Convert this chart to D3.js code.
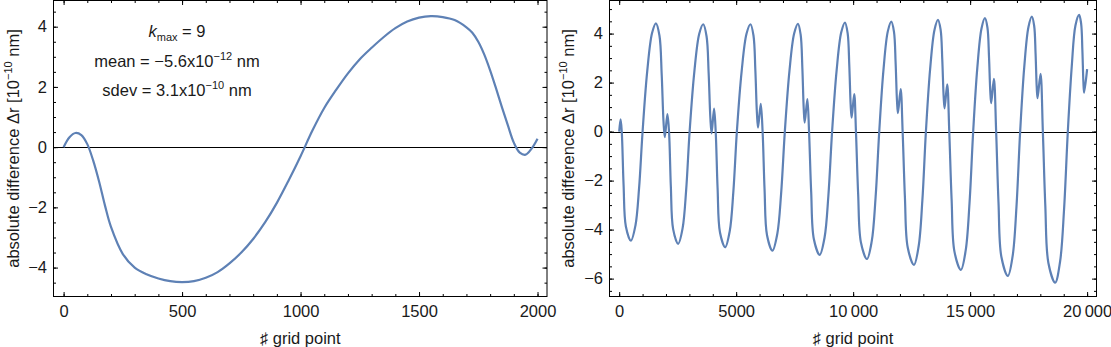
<!DOCTYPE html>
<html>
<head>
<meta charset="utf-8">
<script src="https://cdnjs.cloudflare.com/ajax/libs/d3/7.8.5/d3.min.js"></script>
<style>
    body { margin: 0; background: #fff; }
    svg text { font-family: "Liberation Sans", Arial, sans-serif; fill: #1a1a1a; }
</style>
</head>
<body>
<svg id="chart" width="1111" height="347"></svg>
<script>
// Left panel - one block of 2000 grid points (k_max = 9)
const leftGrid = [0, 25, 50, 75, 100, 125, 150, 175, 200, 250, 300, 350, 400, 450, 500,
    550, 600, 650, 700, 750, 800, 850, 900, 950, 1000, 1050, 1100, 1150, 1200, 1250,
    1300, 1350, 1400, 1450, 1500, 1550, 1600, 1650, 1700, 1725, 1750, 1775, 1800,
    1825, 1850, 1875, 1900, 1925, 1950, 1975, 2000];
const leftDiff = [0, 0.33, 0.47, 0.40, 0.10, -0.45, -1.15, -1.95, -2.65, -3.55, -4.0, -4.22, -4.36, -4.45, -4.48,
    -4.45, -4.34, -4.15, -3.86, -3.5, -3.05, -2.5, -1.85, -1.1, -0.3, 0.55, 1.3, 1.9, 2.45, 2.92,
    3.3, 3.65, 3.95, 4.17, 4.3, 4.35, 4.32, 4.22, 3.98, 3.8, 3.5, 3.08, 2.55,
    1.95, 1.32, 0.72, 0.15, -0.18, -0.25, -0.05, 0.28];

// Right panel - 20000 grid points, one row per block
const rightGrid = [
    0, 60, 110, 188, 286, 500, 695, 850, 1000, 1200, 1405, 1570, 1722, 1817, 1893, 1950,
    2060, 2130, 2208, 2306, 2520, 2711, 2863, 3010, 3213, 3422, 3590, 3734, 3824, 3896, 3950,
    4055, 4125, 4206, 4307, 4530, 4725, 4880, 5030, 5233, 5442, 5610, 5740, 5821, 5886, 5935,
    6050, 6130, 6214, 6319, 6550, 6757, 6921, 7080, 7276, 7478, 7640, 7756, 7829, 7887, 7930,
    8042, 8115, 8206, 8320, 8570, 8777, 8941, 9100, 9293, 9491, 9650, 9764, 9835, 9892, 9935,
    10045, 10120, 10214, 10332, 10590, 10795, 10958, 11115, 11295, 11481, 11630, 11744, 11815, 11872, 11915,
    12030, 12115, 12212, 12333, 12600, 12799, 12957, 13110, 13290, 13476, 13625, 13738, 13809, 13866, 13908,
    14020, 14108, 14208, 14332, 14606, 14810, 14973, 15130, 15306, 15486, 15632, 15739, 15806, 15860, 15900,
    16015, 16112, 16212, 16337, 16613, 16818, 16981, 17138, 17313, 17493, 17638, 17736, 17797, 17845, 17882,
    18008, 18108, 18213, 18345, 18634, 18845, 19013, 19175, 19344, 19501, 19658, 19744, 19797, 19840, 19872, 20000
];
const rightDiff = [
    0, 0.5, 0, -2.18, -3.87, -4.45, -3.83, -2.31, 0, 2.48, 4.02, 4.42, 3.91, 2.33, 0.44, -0.23,
    0.71, 0, -2.24, -3.98, -4.58, -3.94, -2.38, 0, 2.45, 3.99, 4.38, 3.89, 2.38, 0.58, -0.07,
    0.94, 0, -2.31, -4.11, -4.72, -4.06, -2.45, 0, 2.45, 3.99, 4.38, 3.92, 2.48, 0.77, 0.16,
    1.13, 0, -2.38, -4.23, -4.86, -4.18, -2.53, 0, 2.46, 4.0, 4.40, 3.96, 2.59, 0.95, 0.37,
    1.33, 0, -2.46, -4.38, -5.03, -4.33, -2.62, 0, 2.49, 4.05, 4.45, 4.02, 2.70, 1.13, 0.57,
    1.53, 0, -2.55, -4.52, -5.2, -4.47, -2.70, 0, 2.51, 4.09, 4.49, 4.08, 2.81, 1.29, 0.75,
    1.73, 0, -2.67, -4.73, -5.44, -4.68, -2.83, 0, 2.55, 4.15, 4.56, 4.16, 2.94, 1.47, 0.95,
    1.93, 0, -2.76, -4.91, -5.64, -4.85, -2.93, 0, 2.59, 4.21, 4.63, 4.25, 3.07, 1.66, 1.16,
    2.15, 0, -2.89, -5.12, -5.89, -5.07, -3.06, 0, 2.63, 4.27, 4.69, 4.32, 3.19, 1.84, 1.36,
    2.36, 0, -3.02, -5.36, -6.16, -5.30, -3.20, 0, 2.67, 4.33, 4.76, 4.41, 3.33, 2.05, 1.59, 2.55
];

// Ticks
const leftXTicks = [0, 500, 1000, 1500, 2000];
const leftXMinor = d3.range(0, 2001, 100);
const leftYTicks = [-4, -2, 0, 2, 4];
const leftYMinor = d3.range(-4.5, 4.51, 0.5);
const rightXTicks = [0, 5000, 10000, 15000, 20000];
const rightXMinor = d3.range(0, 20001, 1000);
const rightYTicks = [-6, -4, -2, 0, 2, 4];
const rightYMinor = d3.range(-6.5, 5.01, 0.5);

const LINE_COLOR = '#5E81B5';
const FONT_SIZE = 16.5;

const svg = d3.select('#chart');

function drawPanel(cfg) {
    const x = d3.scaleLinear().domain(cfg.xDomain).range([cfg.left, cfg.right]);
    const y = d3.scaleLinear().domain(cfg.yDomain).range([cfg.bottom, cfg.top]);
    const g = svg.append('g');

    const clipId = 'clip-' + cfg.name;
    svg.append('clipPath').attr('id', clipId)
        .append('rect')
        .attr('x', cfg.left).attr('y', cfg.top)
        .attr('width', cfg.right - cfg.left).attr('height', cfg.bottom - cfg.top);

    // zero line (snapped to pixel)
    const y0 = Math.round(y(0)) + 0.5;
    g.append('line')
        .attr('x1', cfg.left).attr('x2', cfg.right)
        .attr('y1', y0).attr('y2', y0)
        .attr('stroke', '#000').attr('stroke-width', 1);

    // curve
    const pts = cfg.xs.map((v, i) => [v, cfg.ys[i]]);
    g.append('path')
        .datum(pts)
        .attr('clip-path', `url(#${clipId})`)
        .attr('fill', 'none')
        .attr('stroke', LINE_COLOR)
        .attr('stroke-width', 2.2)
        .attr('stroke-linejoin', 'round')
        .attr('d', d3.line().x(d => x(d[0])).y(d => y(d[1])).curve(d3.curveCatmullRom.alpha(0.5)));

    // ticks on all four sides, pointing inward
    const axes = [
        { gen: d3.axisBottom, scale: x, pos: `translate(0,${cfg.bottom})`, major: cfg.xTicks, minor: cfg.xMinor, fmt: cfg.xFormat, pad: 9 },
        { gen: d3.axisTop, scale: x, pos: `translate(0,${cfg.top})`, major: cfg.xTicks, minor: cfg.xMinor, fmt: null },
        { gen: d3.axisLeft, scale: y, pos: `translate(${cfg.left},0)`, major: cfg.yTicks, minor: cfg.yMinor, fmt: d3.format('d'), pad: 6.5 },
        { gen: d3.axisRight, scale: y, pos: `translate(${cfg.right},0)`, major: cfg.yTicks, minor: cfg.yMinor, fmt: null }
    ];
    axes.forEach(a => {
        g.append('g')
            .attr('transform', a.pos)
            .call(a.gen(a.scale).tickValues(a.minor).tickSizeInner(-2.5).tickSizeOuter(0).tickFormat(''))
            .call(s => s.select('.domain').remove());
        const ax = g.append('g')
            .attr('transform', a.pos)
            .call(a.gen(a.scale).tickValues(a.major).tickSizeInner(-4.5).tickSizeOuter(0)
                .tickPadding(a.pad || 0)
                .tickFormat(a.fmt || ''));
        ax.select('.domain').remove();
        ax.selectAll('text')
            .attr('font-size', FONT_SIZE)
            .attr('font-family', '"Liberation Sans", Arial, sans-serif')
            .attr('fill', '#1a1a1a');
    });
    g.selectAll('.tick line').attr('stroke', '#000');

    // frame
    g.append('rect')
        .attr('x', cfg.left).attr('y', cfg.top)
        .attr('width', cfg.right - cfg.left).attr('height', cfg.bottom - cfg.top)
        .attr('fill', 'none').attr('stroke', '#000').attr('stroke-width', 1);

    // x label
    g.append('text')
        .attr('x', (cfg.left + cfg.right) / 2)
        .attr('y', 343.5)
        .attr('text-anchor', 'middle')
        .attr('font-size', FONT_SIZE)
        .text('\u266F grid point');

    // y label
    const yl = g.append('text')
        .attr('transform', `translate(${cfg.yLabelX},${(cfg.top + cfg.bottom) / 2}) rotate(-90)`)
        .attr('text-anchor', 'middle')
        .attr('font-size', FONT_SIZE);
    yl.append('tspan').text('absolute difference \u0394r [10');
    yl.append('tspan').attr('dy', -7).attr('font-size', 11).text('\u221210');
    yl.append('tspan').attr('dy', 7).text(' nm]');

    return { x, y, g };
}

// Left panel
const left = drawPanel({
    name: 'left',
    left: 53.5, right: 547, top: 0.5, bottom: 296.5,
    xDomain: [-42.6, 2040], yDomain: [-4.96, 4.87],
    xs: leftGrid, ys: leftDiff,
    xTicks: leftXTicks, xMinor: leftXMinor, yTicks: leftYTicks, yMinor: leftYMinor,
    xFormat: d3.format('d'),
    yLabelX: 19
});

// Right panel
drawPanel({
    name: 'right',
    left: 609.5, right: 1096.5, top: 0.5, bottom: 296.5,
    xDomain: [-414, 20401], yDomain: [-6.73, 5.35],
    xs: rightGrid, ys: rightDiff,
    xTicks: rightXTicks, xMinor: rightXMinor, yTicks: rightYTicks, yMinor: rightYMinor,
    xFormat: d => d >= 10000 ? d3.format(',')(d).replace(',', '\u2009') : String(d),
    yLabelX: 574
});

// Annotation in left panel
const annX = 177;
const ann = left.g.append('g').attr('font-size', FONT_SIZE).attr('text-anchor', 'middle');

const t1 = ann.append('text').attr('x', annX).attr('y', 36.7);
t1.append('tspan').attr('font-style', 'italic').text('k');
t1.append('tspan').attr('font-size', 11).attr('dy', 4).text('max');
t1.append('tspan').attr('dy', -4).text(' = 9');

const t2 = ann.append('text').attr('x', annX).attr('y', 66.7);
t2.append('tspan').text('mean = \u22125.6x10');
t2.append('tspan').attr('font-size', 11).attr('dy', -7).text('\u221212');
t2.append('tspan').attr('dy', 7).text(' nm');

const t3 = ann.append('text').attr('x', annX).attr('y', 95.5);
t3.append('tspan').text('sdev = 3.1x10');
t3.append('tspan').attr('font-size', 11).attr('dy', -7).text('\u221210');
t3.append('tspan').attr('dy', 7).text(' nm');
</script>
</body>
</html>
